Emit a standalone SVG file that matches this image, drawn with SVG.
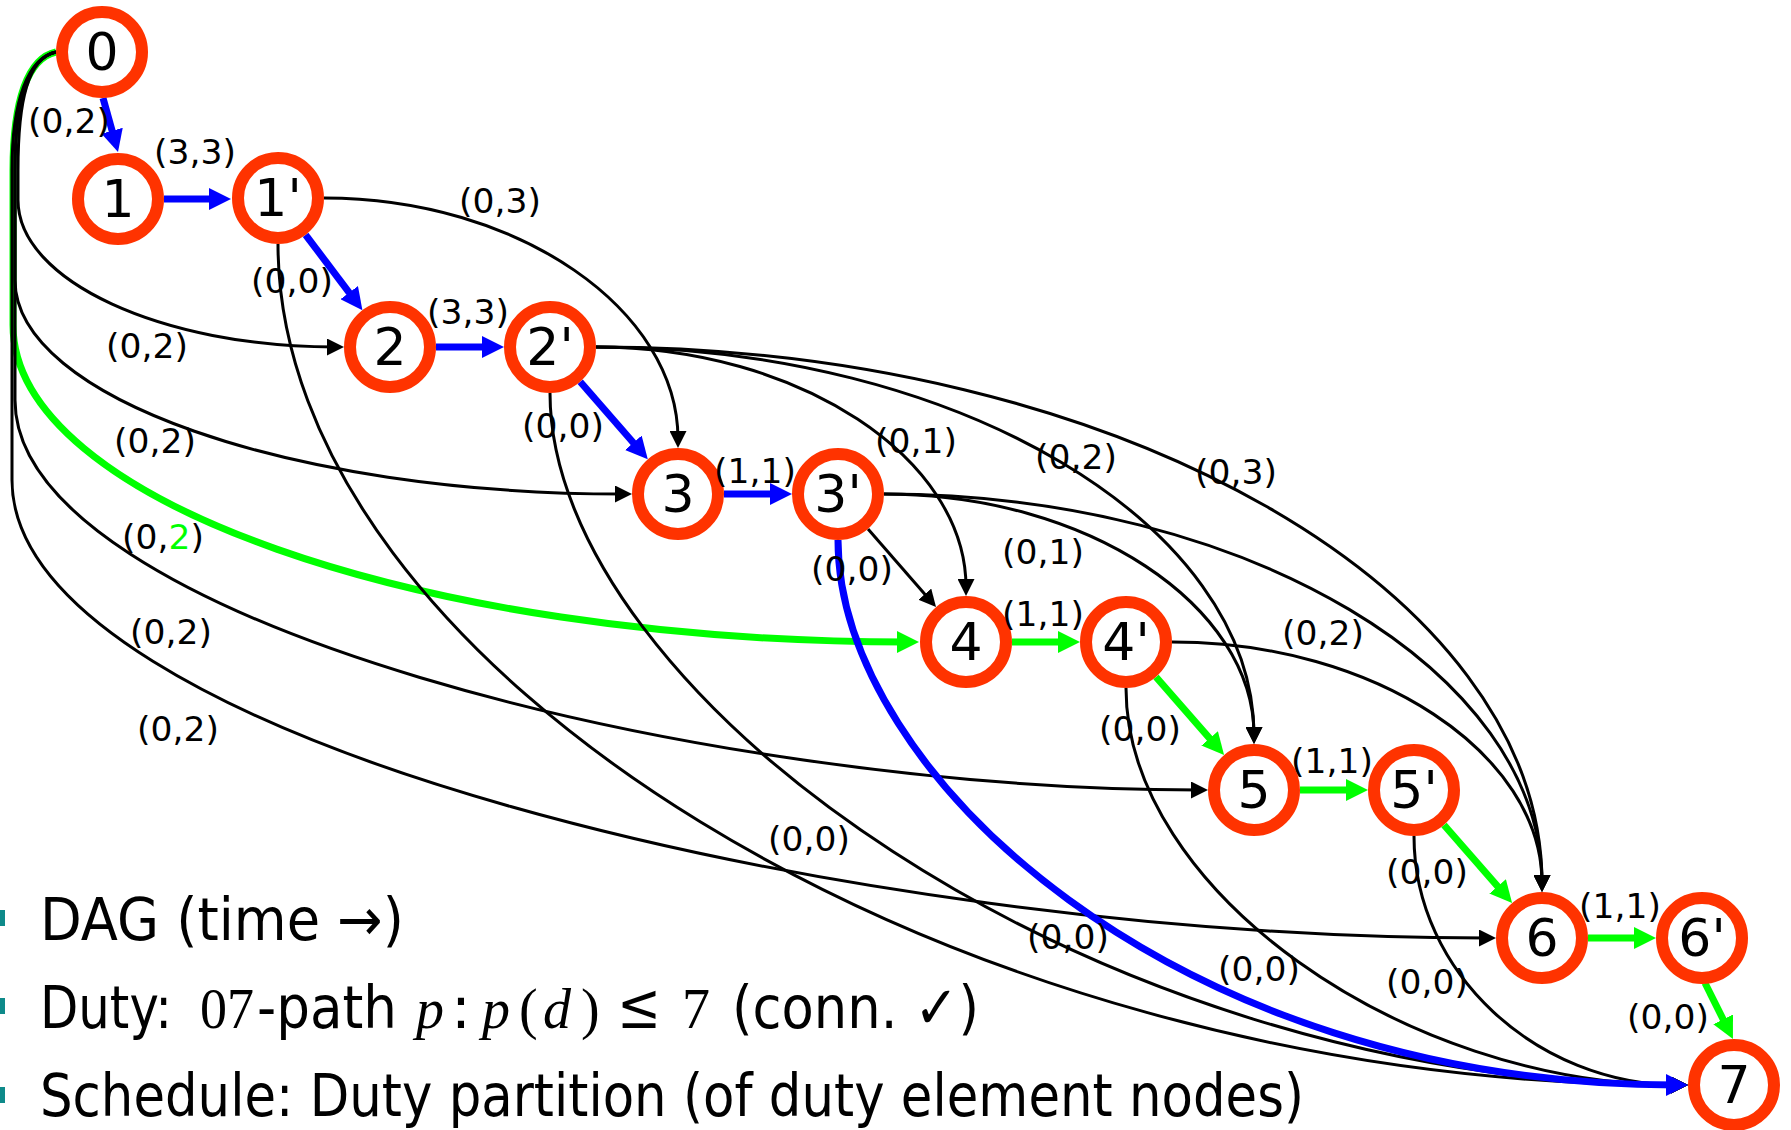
<svg xmlns="http://www.w3.org/2000/svg" width="1791" height="1130" viewBox="0 0 1791 1130">
  <style>
    .bk { fill: none; stroke: #000; stroke-width: 3; marker-end: url(#ah-k); }
    .bl { fill: none; stroke: #0000ff; stroke-width: 7; marker-end: url(#ah-b); }
    .gr { fill: none; stroke: #00ff00; stroke-width: 7; marker-end: url(#ah-g); }
    .node circle { fill: #fff; stroke: #ff3300; stroke-width: 12; }
    .node text { font-family: "DejaVu Sans", sans-serif; font-size: 52px; text-anchor: middle; fill: #000; }
    .lbl { font-family: "DejaVu Sans", sans-serif; font-size: 34.5px; text-anchor: middle; fill: #000; }
    .bt { font-family: "DejaVu Sans", sans-serif; font-size: 59px; fill: #000; }
    .mt { font-family: "Liberation Serif", "DejaVu Serif", serif; font-size: 56px; fill: #000; }
    .mi { font-style: italic; }
    .rel { font-family: "DejaVu Serif", serif; font-size: 64px; fill: #000; }
    .bullet { fill: #0e8a8a; }
  </style>
  <defs>
    <marker id="ah-k" markerUnits="userSpaceOnUse" viewBox="0 0 17 17" markerWidth="17" markerHeight="17" refX="8" refY="8.5" orient="auto">
      <path d="M0,0 L17,8.5 L0,17 z" fill="#000"/>
    </marker>
    <marker id="ah-b" markerUnits="userSpaceOnUse" viewBox="0 0 22 22" markerWidth="22" markerHeight="22" refX="10" refY="11" orient="auto">
      <path d="M0,0 L22,11 L0,22 z" fill="#0000ff"/>
    </marker>
    <marker id="ah-g" markerUnits="userSpaceOnUse" viewBox="0 0 22 22" markerWidth="22" markerHeight="22" refX="10" refY="11" orient="auto">
      <path d="M0,0 L22,11 L0,22 z" fill="#00ff00"/>
    </marker>
  </defs>

  <g id="connectors">
    <!-- green duty: source 0 to 4 -->
    <path class="gr" d="M56,52 C28,58 13,100 13,170 L13,325 C13,500 418,642 907,642"/>
    <!-- source 0 to duty starts -->
    <path class="bk" d="M56,52 C28,58 18,100 18,170 L18,200 C18,281 162,347 335,347"/>
    <path class="bk" d="M56,52 C28,58 15,100 15,170 L15,280 C15,398 291,494 623,494"/>
    <path class="bk" d="M56,52 C28,58 15,100 15,170 L15,400 C15,620 700,790 1199,790"/>
    <path class="bk" d="M56,52 C28,58 12,100 12,170 L12,480 C12,740 850,938 1487,938"/>
    <!-- connections between duty elements -->
    <path class="bk" d="M324,198 C519,198 678,310 678,439"/>
    <path class="bk" d="M596,347 C800,347 966,459 966,587"/>
    <path class="bk" d="M596,347 C959,347 1254,525 1254,735"/>
    <path class="bk" d="M596,347 C1118,347 1542,591 1542,883"/>
    <path class="bk" d="M868,529 L930.1,600.2"/>
    <path class="bk" d="M884,494 C1088,494 1254,606 1254,735"/>
    <path class="bk" d="M884,494 C1247,494 1542,672 1542,883"/>
    <path class="bk" d="M1172,642 C1376,642 1542,754 1542,883"/>
    <!-- duty ends to sink 7 -->
    <path class="bk" d="M278,244 C278,664 938,1085 1679,1085"/>
    <path class="bk" d="M550,393 C550,693 1088,1085 1679,1085"/>
    <path class="bk" d="M1126,688 C1126,888 1400,1085 1679,1085"/>
    <path class="bk" d="M1414,836 C1414,973 1537,1085 1679,1085"/>
    <!-- blue duty -->
    <path class="bl" d="M103,98 L114.8,140.4"/>
    <path class="bl" d="M164,199 L219,199"/>
    <path class="bl" d="M305.6,234.8 L355.2,300.6"/>
    <path class="bl" d="M436,347 L492,347"/>
    <path class="bl" d="M580.2,381.7 L639.9,450.3"/>
    <path class="bl" d="M724,494 L780,494"/>
    <path class="bl" d="M838,540 C838,773 1174,1085 1676,1085"/>
    <!-- green duty, remaining legs -->
    <path class="gr" d="M1012,642 L1068,642"/>
    <path class="gr" d="M1156,677 L1216.2,745.9"/>
    <path class="gr" d="M1300,790 L1356,790"/>
    <path class="gr" d="M1444,825 L1504.2,893.9"/>
    <path class="gr" d="M1588,938 L1644,938"/>
    <path class="gr" d="M1705,983 L1727.6,1028.3"/>
  </g>

  <g id="node-0" class="node"><circle cx="102" cy="52" r="40"/><text x="102" y="70">0</text></g>
  <g id="node-1" class="node"><circle cx="118" cy="199" r="40"/><text x="118" y="217">1</text></g>
  <g id="node-1p" class="node"><circle cx="278" cy="198" r="40"/><text x="278" y="216">1'</text></g>
  <g id="node-2" class="node"><circle cx="390" cy="347" r="40"/><text x="390" y="365">2</text></g>
  <g id="node-2p" class="node"><circle cx="550" cy="347" r="40"/><text x="550" y="365">2'</text></g>
  <g id="node-3" class="node"><circle cx="678" cy="494" r="40"/><text x="678" y="512">3</text></g>
  <g id="node-3p" class="node"><circle cx="838" cy="494" r="40"/><text x="838" y="512">3'</text></g>
  <g id="node-4" class="node"><circle cx="966" cy="642" r="40"/><text x="966" y="660">4</text></g>
  <g id="node-4p" class="node"><circle cx="1126" cy="642" r="40"/><text x="1126" y="660">4'</text></g>
  <g id="node-5" class="node"><circle cx="1254" cy="790" r="40"/><text x="1254" y="808">5</text></g>
  <g id="node-5p" class="node"><circle cx="1414" cy="790" r="40"/><text x="1414" y="808">5'</text></g>
  <g id="node-6" class="node"><circle cx="1542" cy="938" r="40"/><text x="1542" y="956">6</text></g>
  <g id="node-6p" class="node"><circle cx="1702" cy="938" r="40"/><text x="1702" y="956">6'</text></g>
  <g id="node-7" class="node"><circle cx="1734" cy="1085" r="40"/><text x="1734" y="1103">7</text></g>

  <g id="edge-labels">
    <text class="lbl" x="69" y="133">(0,2)</text>
    <text class="lbl" x="195" y="164">(3,3)</text>
    <text class="lbl" x="292" y="293">(0,0)</text>
    <text class="lbl" x="500" y="213">(0,3)</text>
    <text class="lbl" x="147" y="358">(0,2)</text>
    <text class="lbl" x="468" y="324">(3,3)</text>
    <text class="lbl" x="563" y="438">(0,0)</text>
    <text class="lbl" x="755" y="483">(1,1)</text>
    <text class="lbl" x="852" y="581">(0,0)</text>
    <text class="lbl" x="155" y="453">(0,2)</text>
    <text class="lbl" x="163" y="549">(0,<tspan fill="#00ff00">2</tspan>)</text>
    <text class="lbl" x="916" y="453">(0,1)</text>
    <text class="lbl" x="1076" y="469">(0,2)</text>
    <text class="lbl" x="1236" y="484">(0,3)</text>
    <text class="lbl" x="1043" y="564">(0,1)</text>
    <text class="lbl" x="1043" y="626">(1,1)</text>
    <text class="lbl" x="1323" y="645">(0,2)</text>
    <text class="lbl" x="1140" y="741">(0,0)</text>
    <text class="lbl" x="171" y="644">(0,2)</text>
    <text class="lbl" x="1332" y="773">(1,1)</text>
    <text class="lbl" x="178" y="741">(0,2)</text>
    <text class="lbl" x="1427" y="884">(0,0)</text>
    <text class="lbl" x="1620" y="918">(1,1)</text>
    <text class="lbl" x="809" y="851">(0,0)</text>
    <text class="lbl" x="1068" y="949">(0,0)</text>
    <text class="lbl" x="1259" y="981">(0,0)</text>
    <text class="lbl" x="1427" y="994">(0,0)</text>
    <text class="lbl" x="1668" y="1029">(0,0)</text>
  </g>

  <g id="bullets">
    <rect class="bullet" x="-10" y="910" width="15" height="16"/>
    <rect class="bullet" x="-10" y="998" width="15" height="16"/>
    <rect class="bullet" x="-10" y="1087" width="15" height="16"/>
    <text class="bt" x="40" y="940" textLength="364" lengthAdjust="spacingAndGlyphs">DAG (time →)</text>
    <text class="bt" x="40" y="1028" textLength="132" lengthAdjust="spacingAndGlyphs">Duty:</text>
    <text class="mt" x="200" y="1028" textLength="54" lengthAdjust="spacingAndGlyphs">07</text>
    <text class="bt" x="257" y="1028" textLength="140" lengthAdjust="spacingAndGlyphs">-path</text>
    <text class="mt mi" x="416" y="1028">p</text>
    <text class="bt" x="451" y="1028">:</text>
    <text class="mt mi" x="482" y="1028">p</text>
    <text class="mt" x="519" y="1028">(</text>
    <text class="mt mi" x="543" y="1028">d</text>
    <text class="mt" x="581" y="1028">)</text>
    <text class="rel" x="617" y="1028" textLength="44" lengthAdjust="spacingAndGlyphs">≤</text>
    <text class="mt" x="682" y="1028">7</text>
    <text class="bt" x="732" y="1028" textLength="247" lengthAdjust="spacingAndGlyphs">(conn. ✓)</text>
    <text class="bt" x="40" y="1116" textLength="1264" lengthAdjust="spacingAndGlyphs">Schedule: Duty partition (of duty element nodes)</text>
  </g>
</svg>
